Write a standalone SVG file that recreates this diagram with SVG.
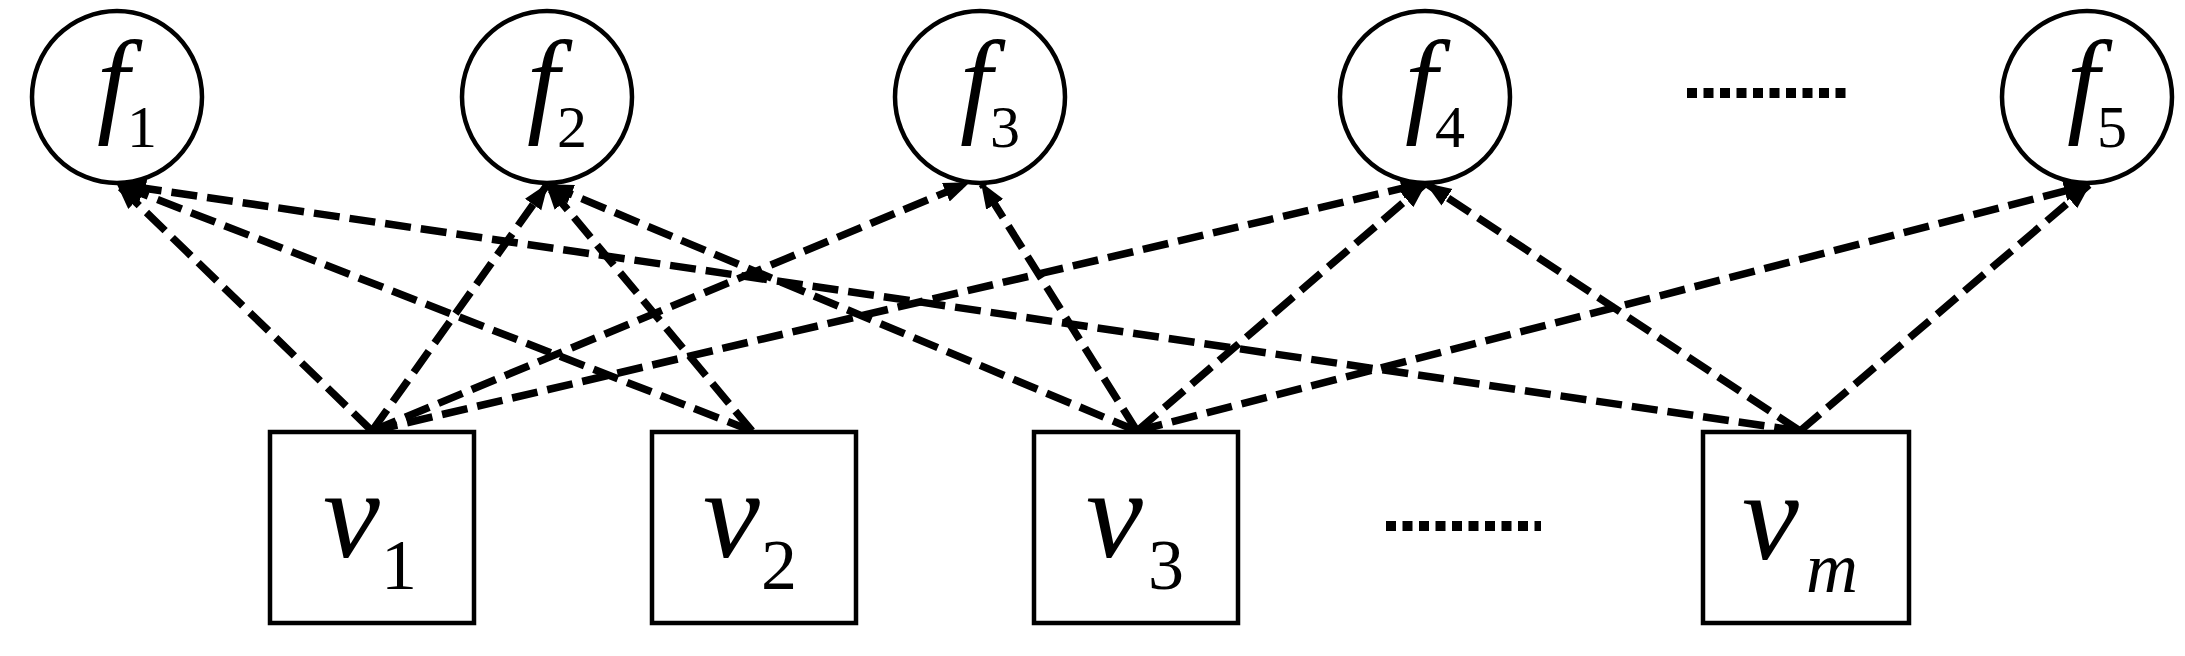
<svg xmlns="http://www.w3.org/2000/svg" width="2185" height="656" viewBox="0 0 2185 656">
<style>
.fnode{fill:#fff;stroke:#000;stroke-width:4.5}
.vnode{fill:#fff;stroke:#000;stroke-width:4.5}
.edge{stroke:#000;stroke-width:7.5;stroke-dasharray:26 10;fill:none;marker-end:url(#arr)}
.dots{stroke:#000;stroke-width:10;stroke-dasharray:10 6.5;fill:none}
text{font-family:"Liberation Serif","Times New Roman",serif;fill:#000}
.fl{font-size:116px;font-style:italic}
.fs{font-size:60px}
.vl{font-size:128px;font-style:italic}
.vs{font-size:72px}
</style>
<defs>
<marker id="arr" markerUnits="userSpaceOnUse" markerWidth="28" markerHeight="22" refX="24" refY="10" orient="auto">
<path d="M0,0 L26,10 L0,20 z" fill="#000"/>
</marker>
</defs>
<rect width="2185" height="656" fill="#fff"/>
<g id="connectors">
<line class="edge" x1="372" y1="431" x2="118" y2="185"/>
<line class="edge" x1="372" y1="431" x2="547" y2="185"/>
<line class="edge" x1="372" y1="431" x2="968" y2="183"/>
<line class="edge" x1="372" y1="431" x2="1425" y2="183"/>
<line class="edge" x1="752" y1="431" x2="120" y2="185"/>
<line class="edge" x1="752" y1="431" x2="547" y2="185"/>
<line class="edge" x1="1137" y1="431" x2="549" y2="185"/>
<line class="edge" x1="1137" y1="431" x2="982" y2="184"/>
<line class="edge" x1="1137" y1="431" x2="1425" y2="184"/>
<line class="edge" x1="1137" y1="431" x2="2088" y2="185"/>
<line class="edge" x1="1800" y1="431" x2="122" y2="185"/>
<line class="edge" x1="1800" y1="431" x2="1427" y2="184"/>
<line class="edge" x1="1800" y1="431" x2="2089" y2="185"/>
</g>
<g id="f1">
<ellipse class="fnode" cx="117" cy="97" rx="85" ry="86"/>
<text class="fl" x="97" y="121">f</text>
<text class="fs" x="127" y="147">1</text>
</g>
<g id="f2">
<ellipse class="fnode" cx="547" cy="97" rx="85" ry="86"/>
<text class="fl" x="527" y="121">f</text>
<text class="fs" x="557" y="147">2</text>
</g>
<g id="f3">
<ellipse class="fnode" cx="980" cy="97" rx="85" ry="86"/>
<text class="fl" x="960" y="121">f</text>
<text class="fs" x="990" y="147">3</text>
</g>
<g id="f4">
<ellipse class="fnode" cx="1425" cy="97" rx="85" ry="86"/>
<text class="fl" x="1405" y="121">f</text>
<text class="fs" x="1435" y="147">4</text>
</g>
<g id="f5">
<ellipse class="fnode" cx="2087" cy="97" rx="85" ry="86"/>
<text class="fl" x="2067" y="121">f</text>
<text class="fs" x="2097" y="147">5</text>
</g>
<g id="v1">
<rect class="vnode" x="270" y="432" width="204" height="191"/>
<text class="vl" x="323" y="557">v</text>
<text class="vs" x="381" y="589">1</text>
</g>
<g id="v2">
<rect class="vnode" x="652" y="432" width="204" height="191"/>
<text class="vl" x="703" y="557">v</text>
<text class="vs" x="761" y="589">2</text>
</g>
<g id="v3">
<rect class="vnode" x="1034" y="432" width="204" height="191"/>
<text class="vl" x="1086" y="557">v</text>
<text class="vs" x="1148" y="589">3</text>
</g>
<g id="vm">
<rect class="vnode" x="1703" y="432" width="206" height="191"/>
<text class="vl" x="1742" y="559">v</text>
<text class="vs" x="1806" y="592" font-style="italic">m</text>
</g>
<g id="ellipses">
<line class="dots" x1="1687" y1="93" x2="1848" y2="93"/>
<line class="dots" x1="1386" y1="526" x2="1541" y2="526"/>
</g>
</svg>
